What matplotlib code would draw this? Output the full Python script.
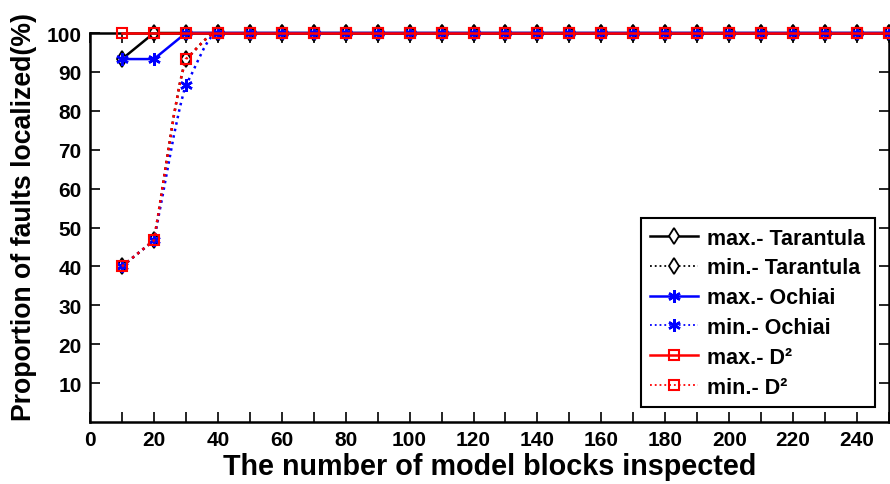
import matplotlib
matplotlib.use("Agg")
import matplotlib.pyplot as plt
from matplotlib.path import Path
from matplotlib.patches import PathPatch
from matplotlib.lines import Line2D
from matplotlib.ticker import MultipleLocator

plt.rcParams['font.family'] = ['Liberation Sans', 'DejaVu Sans']
plt.rcParams['font.weight'] = 'bold'

blocks = list(range(10, 260, 10))
n_rest = len(blocks)
max_tarantula = [93.3] + [100.0] * (n_rest - 1)
min_tarantula = [40.0, 46.7, 93.3] + [100.0] * (n_rest - 3)
max_ochiai = [93.3, 93.3] + [100.0] * (n_rest - 2)
min_ochiai = [40.0, 46.7, 86.7] + [100.0] * (n_rest - 3)
max_d2 = [100.0] * n_rest
min_d2 = [40.0, 46.7, 93.3] + [100.0] * (n_rest - 3)

labels = ['max.- Tarantula', 'min.- Tarantula', 'max.- Ochiai', 'min.- Ochiai',
          'max.- D²', 'min.- D²']


def smooth_path(xs, ys):
    # cubic Bezier segments through the data points; bends only where slope drops
    n = len(xs)
    slopes = [(ys[i + 1] - ys[i]) / (xs[i + 1] - xs[i]) for i in range(n - 1)]
    verts = [(xs[0], ys[0])]
    codes = [Path.MOVETO]
    for i in range(n - 1):
        h = xs[i + 1] - xs[i]
        t0 = slopes[i]
        if i + 1 < n - 1:
            nxt = slopes[i + 1]
            t1 = 0.0 if nxt == 0 else min(slopes[i], (slopes[i] + nxt) / 2)
        else:
            t1 = slopes[i]
        verts += [(xs[i] + h / 3, ys[i] + t0 * h / 3),
                  (xs[i + 1] - h / 3, ys[i + 1] - t1 * h / 3),
                  (xs[i + 1], ys[i + 1])]
        codes += [Path.CURVE4] * 3
    return Path(verts, codes)


fig = plt.figure(figsize=(8.9, 4.85), dpi=100)
ax = fig.add_axes([90 / 890, 62 / 485, 799 / 890, 389 / 485])

styles = [
    dict(color='black', marker='d', ms=8, mfc='white', mew=1.3),
    dict(color='black', marker='d', ms=8, mfc='white', mew=1.3),
    dict(color='#0000ff', marker=(6, 2, 0), ms=9, mew=1.8),
    dict(color='#0000ff', marker=(6, 2, 0), ms=9, mew=1.8),
    dict(color='#ff0000', marker='s', ms=7, mfc='none', mew=1.5),
    dict(color='#ff0000', marker='s', ms=7, mfc='none', mew=1.5),
]
series = [max_tarantula, min_tarantula, max_ochiai, min_ochiai, max_d2, min_d2]
handles = []
for k, (ys, st) in enumerate(zip(series, styles)):
    is_min = (k % 2 == 1)
    ls = ':' if is_min else '-'
    if is_min:
        patch = PathPatch(smooth_path(blocks, ys), fill=False, edgecolor=st['color'],
                          linestyle=':', linewidth=1.8, zorder=2 + k, clip_on=True)
        ax.add_patch(patch)
        ax.plot(blocks, ys, linestyle='none', zorder=2 + k, clip_on=False, **st)
    else:
        ax.plot(blocks, ys, linestyle='-', linewidth=1.8, zorder=2 + k, clip_on=False, **st)
    handles.append(Line2D([], [], linestyle=ls, linewidth=1.8 if not is_min else 1.3, **st))

ax.set_xlim(0, 250)
ax.set_ylim(0, 100)
ax.set_yticks(range(10, 101, 10))
ax.xaxis.set_major_locator(MultipleLocator(20))
ax.xaxis.set_minor_locator(MultipleLocator(10))
ax.tick_params(which='both', direction='in', length=7, width=1.2, top=True, right=True,
               labelsize=15, pad=6)
for lab in ax.get_xticklabels() + ax.get_yticklabels():
    lab.set_fontweight('bold')
for sp in ax.spines.values():
    sp.set_linewidth(1.8)

ax.set_xlabel('The number of model blocks inspected', fontsize=20.7, fontweight='bold', labelpad=2)
ax.set_ylabel('Proportion of faults localized(%)', fontsize=19.2, fontweight='bold')
ax.yaxis.set_label_coords(-0.066, 0.53)

leg = ax.legend(handles, labels, loc='lower right', bbox_to_anchor=(0.996, 0.01),
                prop={'size': 15.5, 'weight': 'bold'}, handlelength=2.2, handletextpad=0.45,
                labelspacing=0.41, borderpad=0.45, fancybox=False, framealpha=1,
                edgecolor='black')
leg.get_frame().set_linewidth(1.5)

fig.savefig('out.png', dpi=100)
